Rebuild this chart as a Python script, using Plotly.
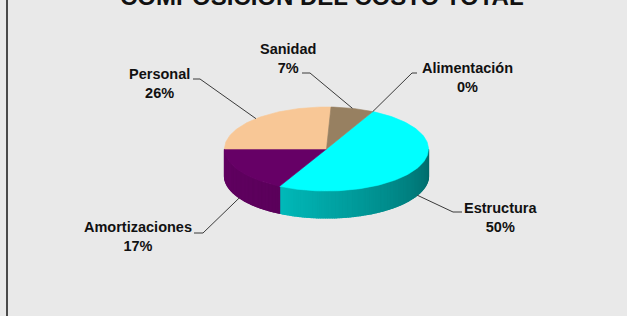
import numpy as np
import plotly.graph_objects as go

# ---- data ----
categories = ["Alimentación", "Estructura", "Amortizaciones", "Personal", "Sanidad"]
values = [0.0, 50.1, 17.4, 25.7, 6.8]
colors = ["#B0B0B0", "#00FFFF", "#660066", "#F8C796", "#978061"]
title_text = "COMPOSICIÓN DEL COSTO TOTAL"

# ---- layout / geometry (pixel space) ----
W, H = 627, 316
CX, CY, RX, RY, DEPTH = 326.5, 149.0, 102.0, 42.0, 27.0
START = 63.0  # degrees, slices drawn clockwise
BG = "#e9e9e9"

# label placement: text centre x, text centre y, elbow x, elbow y, line end x
label_pos = {
    "Alimentación": (467, 77.5, 412, 73, 417),
    "Estructura": (500, 217, 453, 212, 462),
    "Amortizaciones": (138, 236, 203, 233, 194),
    "Personal": (159, 83, 200, 79, 193),
    "Sanidad": (288, 58.5, 310, 73, 302),
}


def ell(a_deg, dy=0.0):
    a = np.radians(a_deg)
    return CX + RX * np.cos(a), CY - RY * np.sin(a) + dy


def rgb(hx):
    hx = hx.lstrip("#")
    return [int(hx[i:i + 2], 16) for i in (0, 2, 4)]


def shade(hx, t):
    r, g, b = rgb(hx)
    lum = max(r, g, b) / 255.0
    f = 0.9 - 0.5 * t
    f = 1 - (1 - f) * lum
    return "#%02x%02x%02x" % tuple(int(max(0, min(255, round(c * f)))) for c in (r, g, b))


total = float(sum(values))
fig = go.Figure()

# slice angle ranges
ranges = []
a = START
for v in values:
    span = 360.0 * v / total
    ranges.append((a, a - span))
    a -= span

# side faces (visible where angle in [-180, 0])
for (a0, a1), col, v in zip(ranges, colors, values):
    if v <= 0:
        continue
    hi, lo = min(a0, 0.0), max(a1, -180.0)
    if hi - lo < 0.5:
        continue
    n = max(2, int(np.ceil((hi - lo) / 1.0)))
    edges = np.linspace(hi, lo, n + 1)
    for k in range(n):
        s0, s1 = edges[k], edges[k + 1]
        mid = 0.5 * (s0 + s1)
        t = (mid + 180.0) / 180.0
        c = shade(col, t)
        angs = np.linspace(s0, s1, 3)
        xt, yt = ell(angs)
        xb, yb = ell(angs[::-1], DEPTH)
        xs = np.concatenate([xt, xb, xt[:1]])
        ys = np.concatenate([yt, yb, yt[:1]])
        fig.add_trace(go.Scatter(x=xs, y=ys, mode="lines", fill="toself",
                                 fillcolor=c, line=dict(color=c, width=1.2),
                                 hoverinfo="skip", showlegend=False))

# top faces
for (a0, a1), col, v in zip(ranges, colors, values):
    if v <= 0:
        continue
    n = max(3, int(np.ceil((a0 - a1) / 1.5)))
    angs = np.linspace(a0, a1, n)
    xa, ya = ell(angs)
    xs = np.concatenate([[CX], xa, [CX]])
    ys = np.concatenate([[CY], ya, [CY]])
    fig.add_trace(go.Scatter(x=xs, y=ys, mode="lines", fill="toself",
                             fillcolor=col, line=dict(color=col, width=0.6),
                             hoverinfo="skip", showlegend=False))

# labels with leader lines
annotations = []
for (a0, a1), cat, v in zip(ranges, categories, values):
    mid = 0.5 * (a0 + a1)
    ax_, ay_ = ell(mid)
    if np.sin(np.radians(mid)) < 0:
        ay_ += DEPTH
    tx, ty, ex, ey, lx = label_pos[cat]
    fig.add_trace(go.Scatter(x=[ax_, ex, lx], y=[ay_, ey, ey], mode="lines",
                             line=dict(color="#3a3a3a", width=1),
                             hoverinfo="skip", showlegend=False))
    pct = int(round(100.0 * v / total))
    annotations.append(dict(x=tx, y=ty, xref="x", yref="y",
                            text=f"<b>{cat}</b><br><b>{pct}%</b>", showarrow=False,
                            align="center", xanchor="center", yanchor="middle",
                            font=dict(family="Liberation Sans, Arial", size=14.5,
                                      color="#111111")))

annotations.append(dict(x=322, y=12, xref="x", yref="y", text=f"<b>{title_text}</b>",
                        showarrow=False, xanchor="center", yanchor="bottom",
                        font=dict(family="Liberation Sans, Arial", size=24, color="#111111")))

fig.update_layout(
    width=W, height=H, margin=dict(l=0, r=0, t=0, b=0),
    paper_bgcolor=BG, plot_bgcolor=BG,
    xaxis=dict(range=[0, W], visible=False, fixedrange=True),
    yaxis=dict(range=[H, 0], visible=False, fixedrange=True),
    annotations=annotations,
    shapes=[dict(type="line", xref="x", yref="y", x0=7, x1=7, y0=0, y1=H,
                 line=dict(color="#4a4a4a", width=2))],
    showlegend=False,
)

fig.write_html("out.html", config={"displayModeBar": False},
               post_script="document.body.style.margin='0';document.body.style.overflow='hidden';")
